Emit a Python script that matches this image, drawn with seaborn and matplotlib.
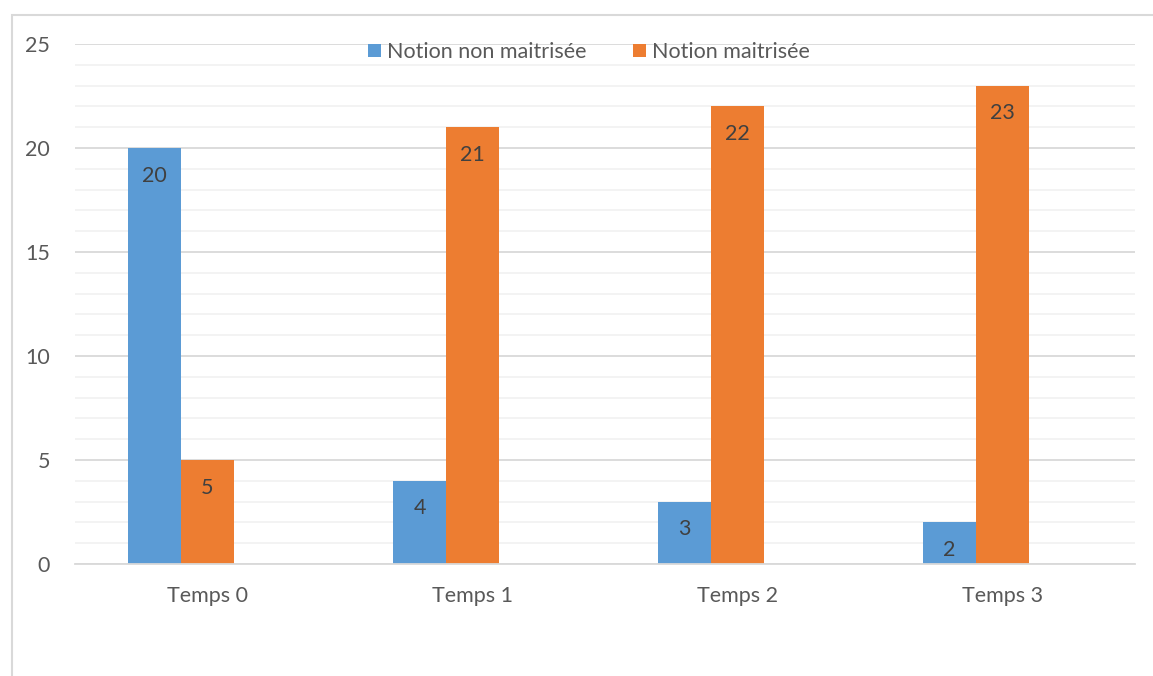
import pandas as pd
import seaborn as sns
import matplotlib.pyplot as plt
from matplotlib.patches import Rectangle
from matplotlib.ticker import MultipleLocator

categories = ['Temps 0', 'Temps 1', 'Temps 2', 'Temps 3']
non_maitrisee = [20, 4, 3, 2]
maitrisee = [5, 21, 22, 23]
# empty third series in the original workbook (keeps the bars shifted left)
vide = [0, 0, 0, 0]
series = ['Notion non maitrisée', 'Notion maitrisée', ' ']

df = pd.DataFrame({
    'temps': categories * 3,
    'valeur': non_maitrisee + maitrisee + vide,
    'serie': [series[0]] * 4 + [series[1]] * 4 + [series[2]] * 4,
})

sns.set_style('white')
plt.rcParams['font.family'] = ['Lato', 'DejaVu Sans']

fig = plt.figure(figsize=(11.53, 6.76), dpi=100)
ax = fig.add_axes([75 / 1153, 1 - 564 / 676, 1060 / 1153, 520 / 676])

sns.barplot(data=df, x='temps', y='valeur', hue='serie', hue_order=series,
            palette=['#5B9BD5', '#ED7D31', '#FFFFFF'], width=0.6,
            saturation=1, linewidth=0, ax=ax, legend=True)

for cont in ax.containers[:2]:
    ax.bar_label(cont, padding=-27, fontsize=15.5, color='#404040')

ax.set_ylim(0, 25)
ax.set_xlim(-0.5, 3.5)
ax.yaxis.set_major_locator(MultipleLocator(5))
ax.yaxis.set_minor_locator(MultipleLocator(1))
ax.grid(axis='y', which='major', color='#D9D9D9', linewidth=1.3)
ax.grid(axis='y', which='minor', color='#F2F2F2', linewidth=1.3)
ax.set_axisbelow(True)
for s in ['top', 'right', 'left']:
    ax.spines[s].set_visible(False)
ax.spines['bottom'].set_color('#D9D9D9')
ax.spines['bottom'].set_linewidth(1.3)
ax.tick_params(axis='both', which='both', length=0, labelsize=15.5, colors='#595959')
ax.tick_params(axis='x', pad=16)
ax.tick_params(axis='y', pad=18)
ax.set_xlabel('')
ax.set_ylabel('')

handles, labels = ax.get_legend_handles_labels()
ax.legend(handles[:2], labels[:2], loc='center', bbox_to_anchor=(589 / 1153, 1 - 52 / 676),
          bbox_transform=fig.transFigure, ncol=2, frameon=False, fontsize=15.5,
          labelcolor='#595959', handlelength=0.6, handleheight=0.6,
          handletextpad=0.25, columnspacing=2.2)

fig.patches.append(Rectangle((12 / 1153, -0.1), 1.2, 1.1 - 15 / 676,
                             transform=fig.transFigure, fill=False,
                             edgecolor='#D9D9D9', linewidth=1.5))

fig.savefig('out.png', dpi=100)
